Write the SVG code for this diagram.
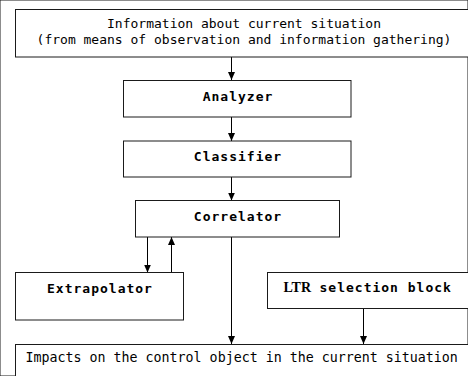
<svg xmlns="http://www.w3.org/2000/svg" width="468" height="376" viewBox="0 0 468 376">
<defs>
<marker id="ah" viewBox="0 0 8 8" refX="8" refY="4" markerWidth="8" markerHeight="8" markerUnits="userSpaceOnUse" orient="auto">
<path d="M0,0.5 L8,4 L0,7.5 Z" fill="#000"/>
</marker>
</defs>
<style>
rect{fill:#fff;stroke:#1a1a1a;stroke-width:1}
.t{font-family:"DejaVu Sans Mono","Liberation Mono",monospace;font-size:13px;fill:#000}
.b{font-family:"DejaVu Sans Mono","Liberation Mono",monospace;font-size:13px;font-weight:bold;letter-spacing:1px;fill:#000}
.s{font-family:"Liberation Serif",serif;font-size:14px;font-weight:bold;fill:#000}
line,polyline{stroke:#000;stroke-width:1;fill:none}
</style>
<rect width="468" height="376" fill="#fff" stroke="none"/>
<g id="connectors">
<line x1="231.5" y1="57" x2="231.5" y2="80" marker-end="url(#ah)"/>
<line x1="231.5" y1="117" x2="231.5" y2="141" marker-end="url(#ah)"/>
<line x1="231.5" y1="177" x2="231.5" y2="200.5" marker-end="url(#ah)"/>
<line x1="147.5" y1="237" x2="147.5" y2="272.5" marker-end="url(#ah)"/>
<line x1="171.5" y1="272.5" x2="171.5" y2="237" marker-end="url(#ah)"/>
<line x1="231.5" y1="237" x2="231.5" y2="344" marker-end="url(#ah)"/>
<line x1="363.5" y1="308.5" x2="363.5" y2="344" marker-end="url(#ah)"/>
</g>
<g id="info">
<rect x="15.5" y="9.5" width="460" height="47.5"/>
<text class="t" x="244" y="27.5" text-anchor="middle">Information about current situation</text>
<text class="t" x="244" y="44" text-anchor="middle">(from means of observation and information gathering)</text>
</g>
<g id="analyzer">
<rect x="123.5" y="80.5" width="227.5" height="36.5"/>
<text class="b" x="238" y="100.5" text-anchor="middle">Analyzer</text>
</g>
<g id="classifier">
<rect x="123.5" y="141" width="227.5" height="36"/>
<text class="b" x="238" y="160.5" text-anchor="middle">Classifier</text>
</g>
<g id="correlator">
<rect x="135.5" y="200.5" width="204" height="36.5"/>
<text class="b" x="238" y="220.5" text-anchor="middle">Correlator</text>
</g>
<g id="extrapolator">
<rect x="15.5" y="272.5" width="168" height="47.5"/>
<text class="b" x="100" y="292.5" text-anchor="middle">Extrapolator</text>
</g>
<g id="ltr">
<rect x="267.5" y="272.5" width="210" height="36"/>
<text x="283.5" y="292"><tspan class="s">LTR</tspan><tspan class="b" x="319.5">selection block</tspan></text>
</g>
<g id="impacts">
<rect x="15.5" y="344.5" width="460" height="40"/>
<text class="t" x="25.5" y="361.5" style="font-size:13.3px">Impacts on the control object in the current situation</text>
</g>
</svg>
